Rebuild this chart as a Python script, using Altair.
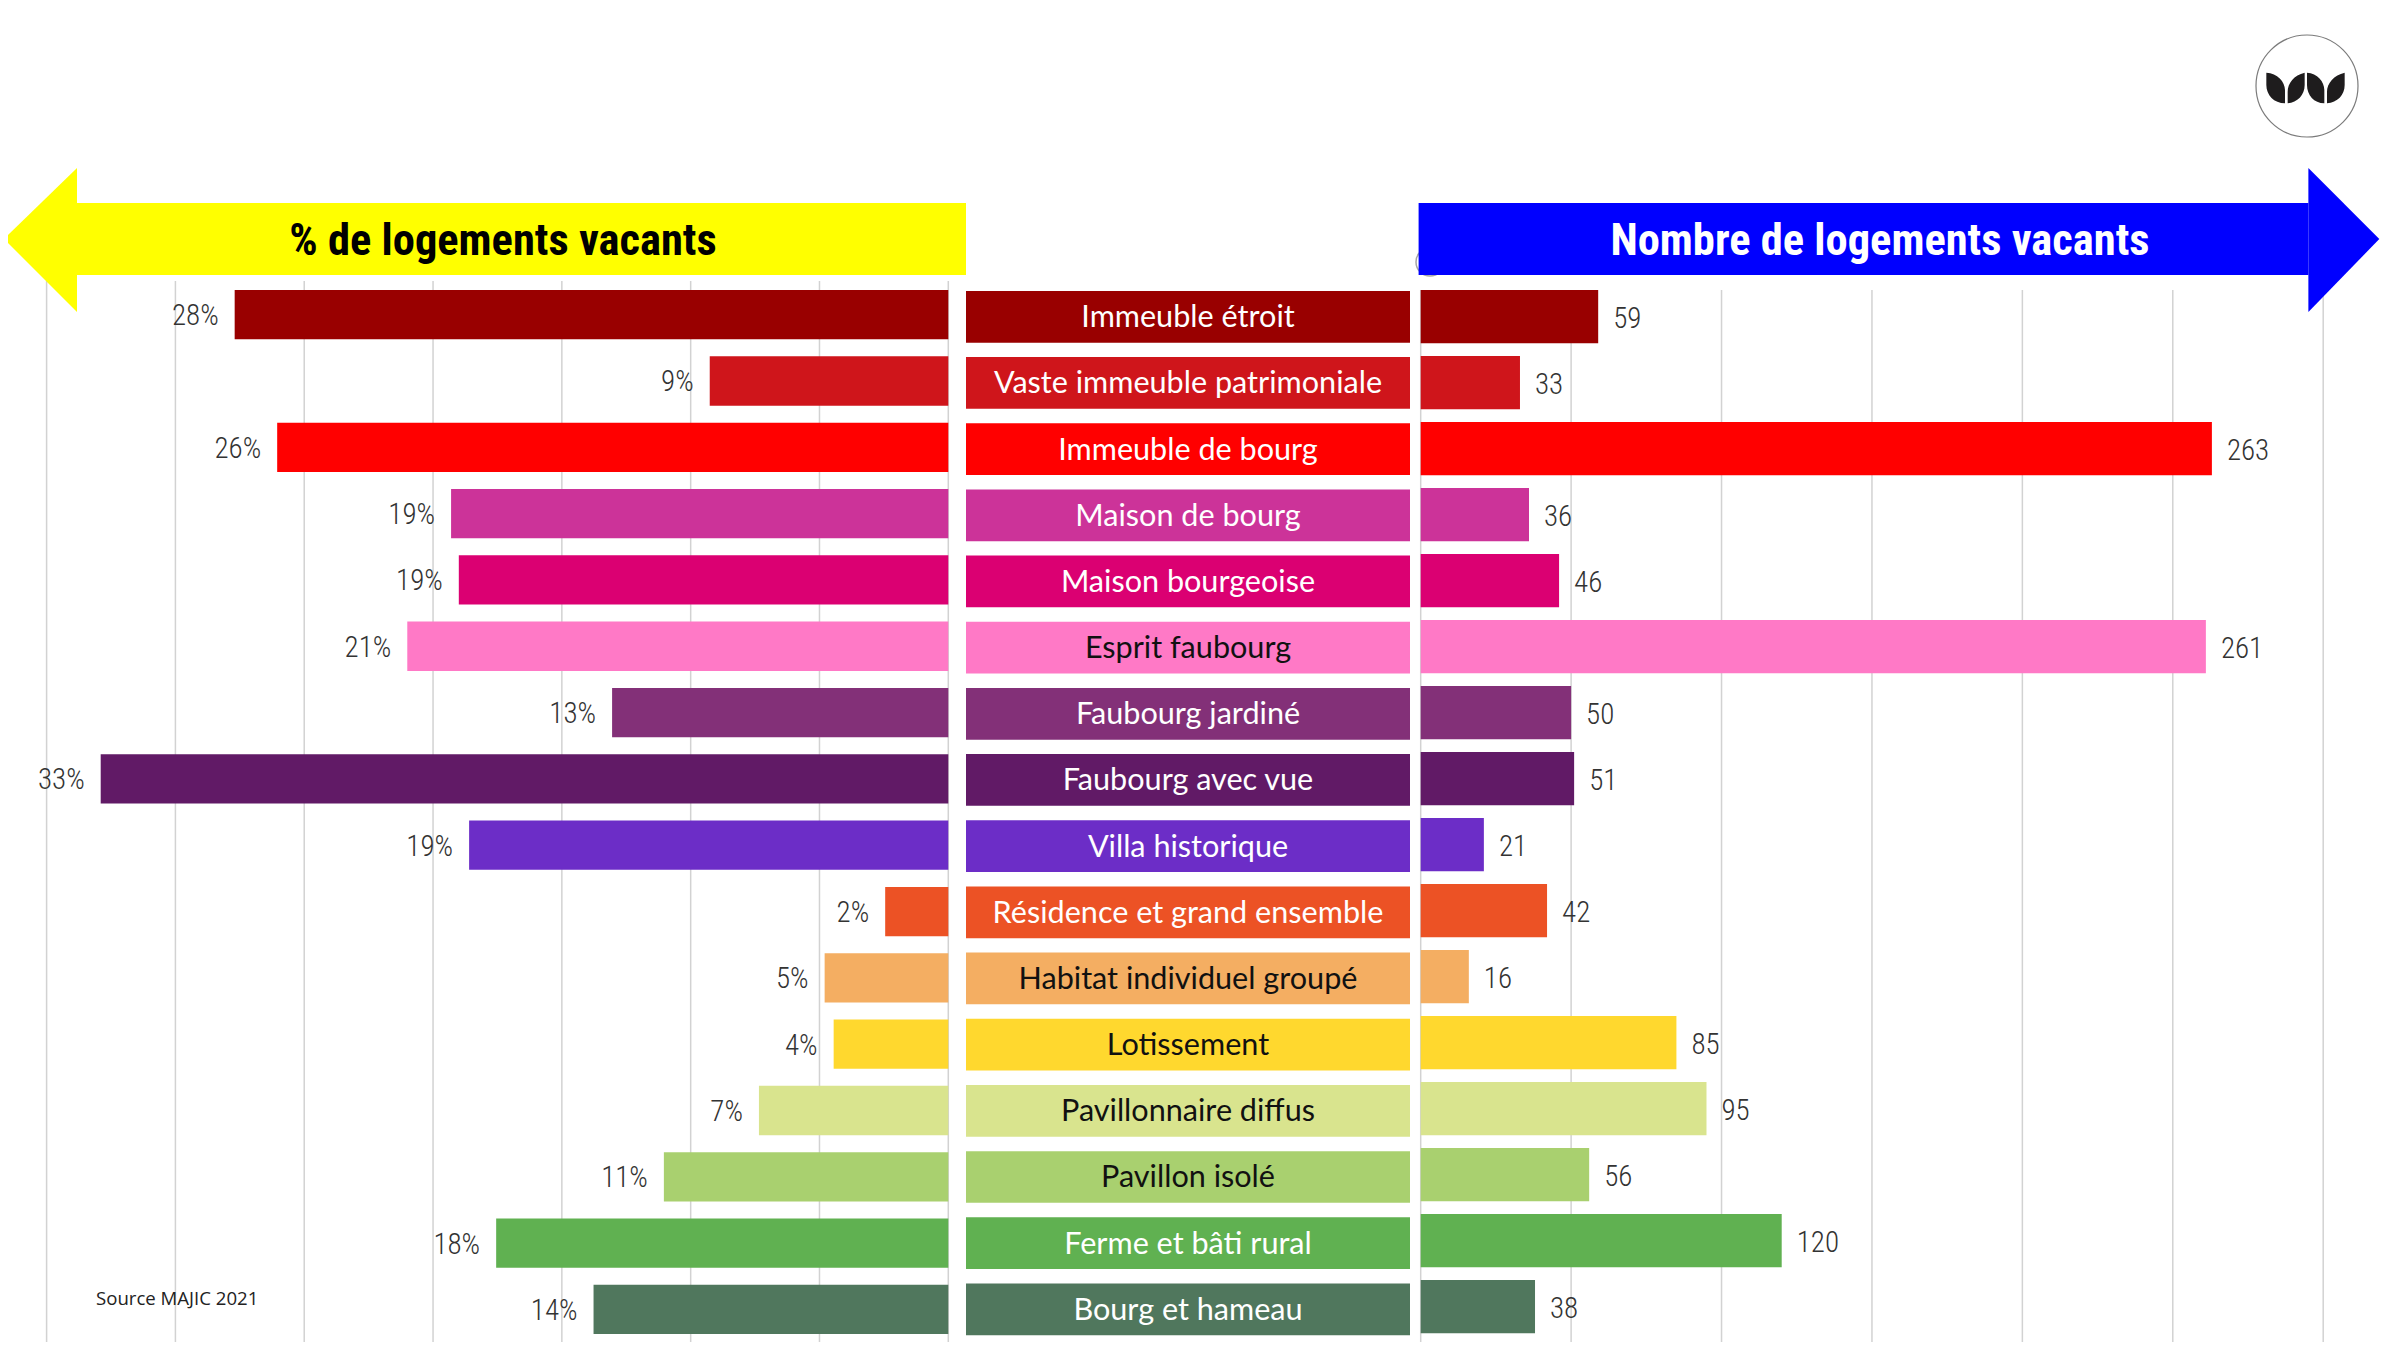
import altair as alt
import pandas as pd

categories = ["Immeuble étroit", "Vaste immeuble patrimoniale", "Immeuble de bourg", "Maison de bourg",
              "Maison bourgeoise", "Esprit faubourg", "Faubourg jardiné", "Faubourg avec vue",
              "Villa historique", "Résidence et grand ensemble", "Habitat individuel groupé", "Lotissement",
              "Pavillonnaire diffus", "Pavillon isolé", "Ferme et bâti rural", "Bourg et hameau"]
pct_vacant = [27.7, 9.26, 26.05, 19.3, 19.0, 21.0, 13.05, 32.9, 18.6, 2.45, 4.8, 4.45, 7.35, 11.04, 17.55, 13.77]
nb_vacant = [59, 33, 263, 36, 46, 261, 50, 51, 21, 42, 16, 85, 95, 56, 120, 38]
colors = ["#990000", "#CF151B", "#FF0000", "#CC3399", "#DB0072", "#FF79C6", "#833078", "#611A66",
          "#6C2DC7", "#EC5225", "#F4AE62", "#FFD82E", "#D9E48E", "#A9D06F", "#60B151", "#50775D"]
text_colors = ["white", "white", "white", "white", "white", "#111111", "white", "white",
               "white", "white", "#111111", "#111111", "#111111", "#111111", "white", "white"]
pct_ticks = [0, 5, 10, 15, 20, 25, 30, 35]
nb_ticks = [0, 50, 100, 150, 200, 250, 300]

W, H = 2384, 1334
NARROW = "Roboto Condensed, DejaVu Sans Condensed, Liberation Sans, sans-serif"
BODY = "Lato"

df = pd.DataFrame({"cat": categories, "pct": pct_vacant, "nb": nb_vacant, "color": colors, "tcolor": text_colors})
df["pct_label"] = [f"{round(v)}%" for v in pct_vacant]

# page pixels minus the 8px body margin
pct_scale = alt.Scale(domain=[35, 0], range=[38.6, 940.3])
nb_scale = alt.Scale(domain=[0, 300], range=[1412.7, 2315.2])
y_left = alt.Y("cat:N", sort=categories, axis=None, scale=alt.Scale(domain=categories, range=[273.5, 1334.6]))
y_mid = alt.Y("cat:N", sort=categories, axis=None, scale=alt.Scale(domain=categories, range=[275.7, 1334.4]))
y_right = alt.Y("cat:N", sort=categories, axis=None, scale=alt.Scale(domain=categories, range=[275.7, 1331.7]))
col = alt.Color("color:N", scale=None)
px_x = alt.Scale(domain=[0, W], range=[0, W])
px_y = alt.Scale(domain=[0, H], range=[0, H])

grid_left = alt.Chart(pd.DataFrame({"t": pct_ticks})).mark_rule(color="#D2D2D2", strokeWidth=1.5).encode(
    x=alt.X("t:Q", scale=pct_scale, axis=None), y=alt.value(273), y2=alt.value(1335))
grid_right = alt.Chart(pd.DataFrame({"t": nb_ticks})).mark_rule(color="#D2D2D2", strokeWidth=1.5).encode(
    x=alt.X("t:Q", scale=nb_scale, axis=None), y=alt.value(282), y2=alt.value(1338))

bars_left = alt.Chart(df).mark_bar(height=49.3).encode(
    x=alt.X("pct:Q", scale=pct_scale, axis=None), y=y_left, color=col)
labels_left = alt.Chart(df).mark_text(align="right", baseline="middle", dx=-16, dy=1.5, font=NARROW, fontSize=29,
                                      fontWeight=300, color="#333333").encode(
    x=alt.X("pct:Q", scale=pct_scale, axis=None), y=y_left, text="pct_label:N")

boxes = alt.Chart(df).mark_bar(height=51.7).encode(
    x=alt.value(958), x2=alt.value(1402), y=y_mid, color=col)
names = alt.Chart(df).mark_text(align="center", baseline="middle", dy=1.5, font=BODY, fontSize=30.6).encode(
    x=alt.value(1180), y=y_mid, text="cat:N", color=alt.Color("tcolor:N", scale=None))

bars_right = alt.Chart(df).mark_bar(height=53.3).encode(
    x=alt.X("nb:Q", scale=nb_scale, axis=None), y=y_right, color=col)
labels_right = alt.Chart(df).mark_text(align="left", baseline="middle", dx=15, dy=2.5, font=NARROW, fontSize=29,
                                       fontWeight=300, color="#333333").encode(
    x=alt.X("nb:Q", scale=nb_scale, axis=None), y=y_right, text="nb:Q")

# arrows
def arrow(body_x1, body_x2, x_shoulder, x_tip, color):
    body = alt.Chart().mark_bar(color=color).encode(
        x=alt.value(body_x1), x2=alt.value(body_x2), y=alt.value(195), y2=alt.value(267))
    head = alt.Chart(pd.DataFrame({"x": [x_tip, x_shoulder], "y": [231, 160], "y2": [231, 304]})
                     .sort_values("x")).mark_area(color=color, orient="vertical").encode(
        x=alt.X("x:Q", scale=px_x, axis=None),
        y=alt.Y("y:Q", scale=px_y, axis=None),
        y2="y2:Q")
    return body, head

left_body, left_head = arrow(69, 958, 69, -4, "#FFFF00")
right_body, right_head = arrow(1410.6, 2300.4, 2300.4, 2371.3, "#0000FF")

title_left = alt.Chart().mark_text(text="% de logements vacants", font=NARROW, fontSize=44.5, fontWeight="bold",
                                   color="black", align="center", baseline="middle").encode(
    x=alt.value(495), y=alt.value(234))
title_right = alt.Chart().mark_text(text="Nombre de logements vacants", font=NARROW, fontSize=44.5, fontWeight="bold",
                                    color="white", align="center", baseline="middle").encode(
    x=alt.value(1872), y=alt.value(234))

arc = alt.Chart().mark_point(shape="circle", size=784, color="#808080", strokeWidth=1.5, filled=False).encode(
    x=alt.value(1422), y=alt.value(254))

source = alt.Chart().mark_text(text="Source MAJIC 2021", font="Open Sans", fontSize=18.6, color="#222222",
                               align="left", baseline="middle", dy=0).encode(x=alt.value(88), y=alt.value(1291))

logo_ring = alt.Chart().mark_point(shape="circle", size=10404, color="#444444", strokeWidth=1.2, filled=False).encode(
    x=alt.value(2299), y=alt.value(78))
LEAVES = ("M-119,-46C-86,-44,-63,-19,-63,6L-63,46C-96,46,-119,21,-119,-9Z"
          "M-4,-46C-36,-39,-55,-14,-55,11L-55,46C-26,44,-4,21,-4,-9Z"
          "M3,-46C34,-44,55,-19,55,6L55,46C24,46,3,21,3,-9Z"
          "M116,-46C84,-39,63,-14,63,11L63,46C94,44,116,21,116,-9Z")
logo_leaves = alt.Chart().mark_point(shape=LEAVES, size=4 / 9, color="#1E1C1D", filled=True, opacity=1).encode(
    x=alt.value(2298), y=alt.value(80))

chart = alt.layer(
    grid_left, grid_right, arc,
    left_body, left_head, right_body, right_head,
    title_left, title_right,
    bars_left, labels_left, boxes, names, bars_right, labels_right,
    source, logo_ring, logo_leaves,
).resolve_scale(x="independent", y="independent").properties(
    width=W, height=H, padding=0, autosize=alt.AutoSizeParams(type="none"), background="white"
).configure_view(strokeWidth=0)

chart.save("out.html", embed_options={"renderer": "svg", "actions": False})
